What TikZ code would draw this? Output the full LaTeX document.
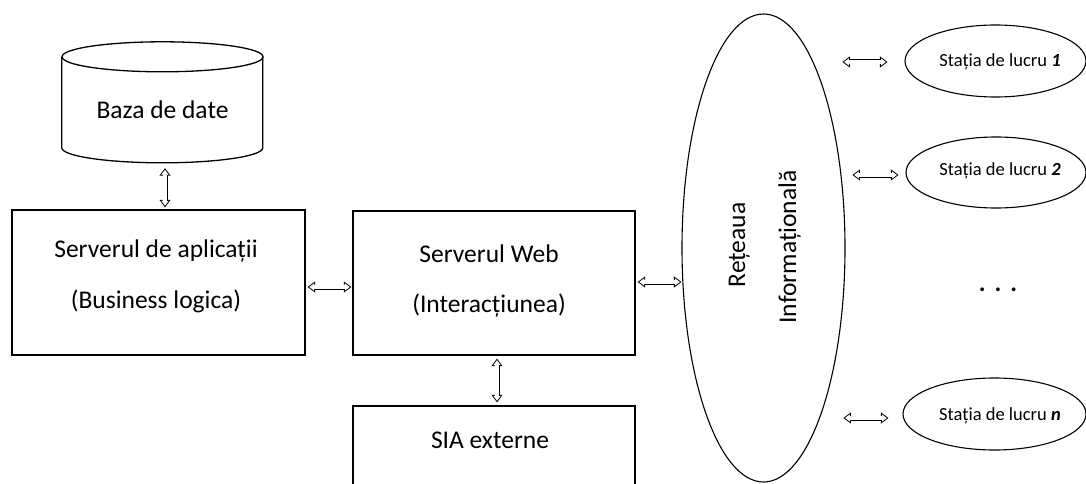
\documentclass[tikz,border=0pt]{standalone}
\usepackage{fontspec}
\setmainfont{Carlito}
\usetikzlibrary{arrows.meta,calc,shapes.geometric}
\newcommand\biarrow[2]{%
  \draw[tipline] (#1) -- (#2);
  \draw[shaftline] (#1) -- (#2);}
\begin{document}
\begin{tikzpicture}[x=1pt,y=1pt,
  box/.style={draw, line width=1.3pt, inner sep=0pt, rectangle},
  oval/.style={draw, line width=1.1pt, ellipse, inner sep=0pt},
  bigtext/.style={font=\fontsize{25.5}{30}\selectfont, anchor=base, inner sep=0pt},
  smalltext/.style={font=\fontsize{18.5}{22}\selectfont, anchor=base, inner sep=0pt},
  tipline/.style={line width=0.8pt, {Triangle[open,length=7.5pt,width=11pt]}-{Triangle[open,length=7.5pt,width=11pt]}},
  shaftline/.style={double, double distance=3.4pt, line width=0.8pt, shorten <=6.8pt, shorten >=6.8pt}]
\clip (0,0) rectangle (1086,-484);
\fill[white] (0,0) rectangle (1086,-484);

% database cylinder
\node[inner sep=0pt, minimum width=201pt, minimum height=121pt] (db) at (162.5,-102.5) {};
\draw[line width=1.3pt] (db.north west) ++(0,-15) -- ++(0,-91)
  arc[start angle=180, end angle=360, x radius=100.5, y radius=15] -- ++(0,91);
\draw[line width=1.3pt] ($(db.north)+(0,-15)$) ellipse[x radius=100.5, y radius=15];
\node[bigtext] (dbt) at (162.5,-119) {Baza de date};

% boxes
\node[box, minimum width=293pt, minimum height=145pt] (app) at (158.5,-282.5) {};
\node[box, minimum width=282pt, minimum height=144pt] (web) at (494,-283) {};
\node[box, minimum width=282pt, minimum height=94pt] (sia) at (494,-453) {};

\node[bigtext] (appt1) at (156,-257) {Serverul de aplicații};
\node[bigtext] (appt2) at (156,-308) {(Business logica)};
\node[bigtext] (webt1) at (489,-262) {Serverul Web};
\node[bigtext] (webt2) at (489,-312) {(Interacțiunea)};
\node[bigtext] (siat) at (490,-448) {SIA externe};

% network ellipse
\node[oval, minimum width=163pt, minimum height=468pt] (net) at (763.5,-248) {};
\node[bigtext, rotate=90] (nett1) at (745,-245) {Rețeaua};
\node[bigtext, rotate=90] (nett2) at (796,-247) {Informațională};

% workstations
\node[oval, minimum width=181pt, minimum height=72pt] (ws1) at (995.5,-61) {};
\node[oval, minimum width=180pt, minimum height=71pt] (ws2) at (996,-172.5) {};
\node[oval, minimum width=183pt, minimum height=72pt] (wsn) at (994.5,-414) {};
\node[smalltext] (ws1t) at (1000,-67) {Stația de lucru \textbf{\textit{1}}};
\node[smalltext] (ws2t) at (1000,-175) {Stația de lucru \textbf{\textit{2}}};
\node[smalltext] (wsnt) at (1000,-420) {Stația de lucru \textbf{\textit{n}}};
\node[bigtext] (dots) at (998,-291) {\textbf{.}\hspace{9pt}\textbf{.}\hspace{9pt}\textbf{.}};

% connectors
\biarrow{$(db.south)+(2.5,-5)$}{$(app.north)+(6.5,2)$}
\biarrow{$(app.east)+(2,-4.5)$}{$(web.west)+(-1,-4)$}
\biarrow{$(web.south)+(3,-3)$}{$(sia.north)+(3,3)$}
\biarrow{$(web.east)+(2,1)$}{$(net.west)+(0,-34)$}
\biarrow{$(ws1.west)+(-62,-1)$}{$(ws1.west)+(-17,-1)$}
\biarrow{$(ws2.west)+(-53,-2.5)$}{$(ws2.west)+(-7,-2.5)$}
\biarrow{$(wsn.west)+(-59,-4)$}{$(wsn.west)+(-14,-4)$}
\end{tikzpicture}
\end{document}
